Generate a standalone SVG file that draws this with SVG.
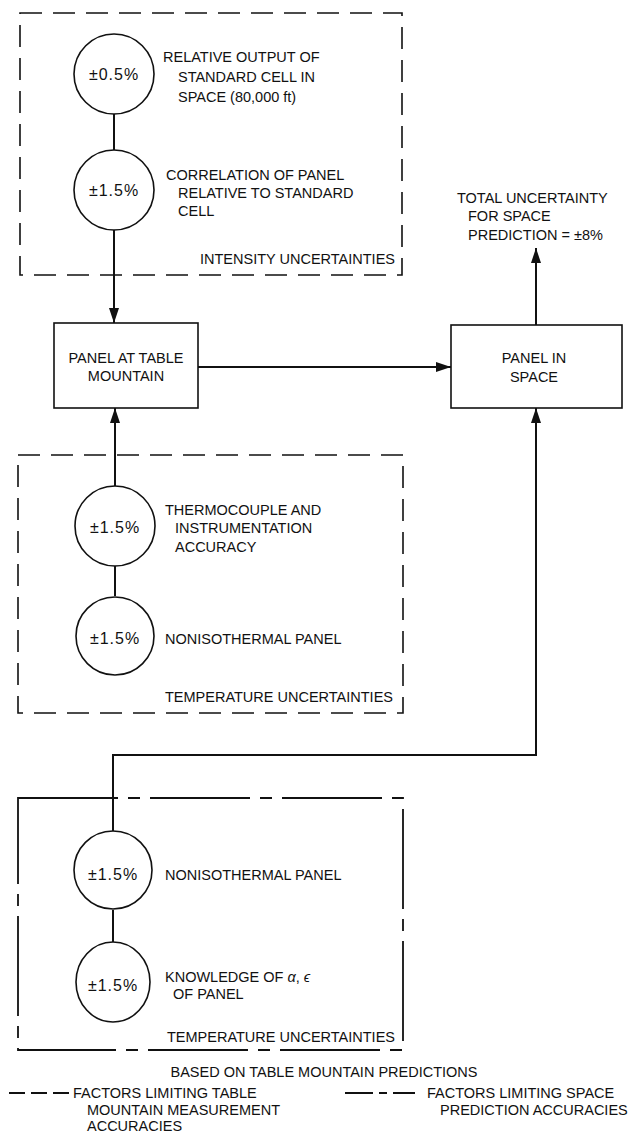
<svg xmlns="http://www.w3.org/2000/svg" width="637" height="1133" viewBox="0 0 637 1133">
<defs>
<style>
text{font-family:"Liberation Sans",Arial,sans-serif;font-size:14.5px;fill:#111;}
.pct{font-size:16px;letter-spacing:1px;text-anchor:middle;}
.mid{text-anchor:middle;}
.end{text-anchor:end;}
.dash{fill:none;stroke:#111;stroke-width:1.6;stroke-dasharray:22 11;}
.dashdot{fill:none;stroke:#111;stroke-width:1.8;stroke-dasharray:100 10 12 10;}
.node{fill:#fff;stroke:#111;stroke-width:1.6;}
.conn{fill:none;stroke:#111;stroke-width:2;}
</style>
<marker id="arr" markerUnits="userSpaceOnUse" markerWidth="15" markerHeight="10" refX="15" refY="5" orient="auto">
<path d="M0,0 L15,5 L0,10 z" fill="#111"/>
</marker>
</defs>
<rect width="637" height="1133" fill="#fff"/>

<g id="intensity-box">
<rect class="dash" x="20" y="13" width="382" height="262"/>
<text class="end" x="395" y="264">INTENSITY UNCERTAINTIES</text>
</g>
<g id="temperature-box-1">
<rect class="dash" x="18" y="455" width="385" height="258"/>
<text class="end" x="393" y="702">TEMPERATURE UNCERTAINTIES</text>
</g>
<g id="temperature-box-2">
<path class="dashdot" d="M18,798 H403 V1050 H18 Z"/>
<text class="end" x="395" y="1042">TEMPERATURE UNCERTAINTIES</text>
</g>

<g id="connectors">
<line class="conn" x1="114" y1="114" x2="114" y2="150"/>
<line class="conn" x1="114" y1="230" x2="114" y2="323" marker-end="url(#arr)"/>
<line class="conn" x1="115" y1="486" x2="115" y2="408" marker-end="url(#arr)"/>
<line class="conn" x1="115" y1="566" x2="115" y2="596"/>
<line class="conn" x1="198" y1="367" x2="451" y2="367" marker-end="url(#arr)"/>
<line class="conn" x1="536" y1="325" x2="536" y2="248" marker-end="url(#arr)"/>
<path class="conn" d="M113,831 V755 H536 V408" marker-end="url(#arr)"/>
<line class="conn" x1="113" y1="910" x2="113" y2="942"/>
</g>

<g id="n-rel-output">
<circle class="node" cx="114" cy="74" r="40"/>
<text class="pct" x="114" y="80">±0.5%</text>
<text x="163" y="62">RELATIVE OUTPUT OF</text>
<text x="178" y="82">STANDARD CELL IN</text>
<text x="178" y="102">SPACE (80,000 ft)</text>
</g>
<g id="n-correlation">
<circle class="node" cx="114" cy="190" r="40"/>
<text class="pct" x="114" y="196">±1.5%</text>
<text x="166" y="180">CORRELATION OF PANEL</text>
<text x="178" y="198">RELATIVE TO STANDARD</text>
<text x="178" y="216">CELL</text>
</g>
<g id="n-table-mountain">
<rect class="node" x="54" y="323" width="144" height="85"/>
<text class="mid" x="126" y="363">PANEL AT TABLE</text>
<text class="mid" x="126" y="381">MOUNTAIN</text>
</g>
<g id="n-space">
<rect class="node" x="451" y="325" width="171" height="83"/>
<text class="mid" x="534" y="363">PANEL IN</text>
<text class="mid" x="534" y="382">SPACE</text>
</g>
<g id="n-total">
<text x="457" y="203">TOTAL UNCERTAINTY</text>
<text x="468" y="221">FOR SPACE</text>
<text x="468" y="240">PREDICTION = ±8%</text>
</g>
<g id="n-thermocouple">
<circle class="node" cx="115" cy="526" r="40"/>
<text class="pct" x="115" y="533">±1.5%</text>
<text x="165" y="515">THERMOCOUPLE AND</text>
<text x="175" y="533">INSTRUMENTATION</text>
<text x="175" y="552">ACCURACY</text>
</g>
<g id="n-noniso-1">
<circle class="node" cx="115" cy="636" r="39"/>
<text class="pct" x="115" y="644">±1.5%</text>
<text x="165" y="644">NONISOTHERMAL PANEL</text>
</g>
<g id="n-noniso-2">
<circle class="node" cx="113" cy="870" r="39"/>
<text class="pct" x="113" y="880">±1.5%</text>
<text x="165" y="880">NONISOTHERMAL PANEL</text>
</g>
<g id="n-knowledge">
<ellipse class="node" cx="113" cy="982" rx="37" ry="40"/>
<text class="pct" x="113" y="991">±1.5%</text>
<text x="165" y="982">KNOWLEDGE OF <tspan font-style="italic">α</tspan>, <tspan font-style="italic">ϵ</tspan></text>
<text x="173" y="999">OF PANEL</text>
</g>

<g id="legend">
<text class="mid" x="324" y="1077">BASED ON TABLE MOUNTAIN PREDICTIONS</text>
<line x1="9" y1="1093" x2="69" y2="1093" stroke="#111" stroke-width="1.8" stroke-dasharray="16 6"/>
<text x="73" y="1098">FACTORS LIMITING TABLE</text>
<text x="87" y="1115">MOUNTAIN MEASUREMENT</text>
<text x="87" y="1131">ACCURACIES</text>
<line x1="345" y1="1093" x2="415" y2="1093" stroke="#111" stroke-width="1.8" stroke-dasharray="28 6 8 6 28"/>
<text x="427" y="1098">FACTORS LIMITING SPACE</text>
<text x="440" y="1115">PREDICTION ACCURACIES</text>
</g>
</svg>
